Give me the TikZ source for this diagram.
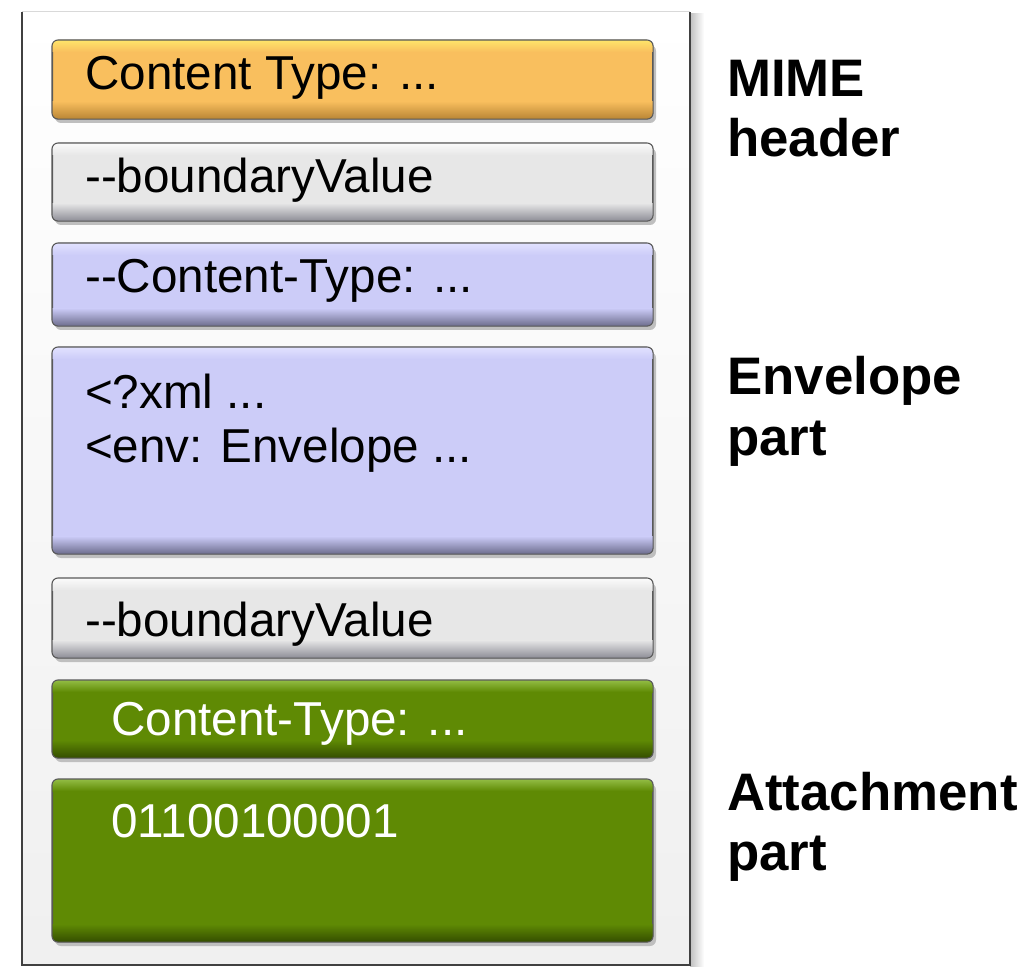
\documentclass[tikz,border=0pt]{standalone}
\usepackage{fontspec}
\setmainfont{Liberation Sans}
\usetikzlibrary{calc}

\definecolor{orangeL}{HTML}{FFE56A}
\definecolor{orangeB}{HTML}{F9BF5E}
\definecolor{orangeD}{HTML}{B98535}
\definecolor{greyL}{HTML}{FBFBFB}
\definecolor{greyB}{HTML}{E7E7E7}
\definecolor{greyD}{HTML}{8C8C96}
\definecolor{lavL}{HTML}{E2E2FF}
\definecolor{lavB}{HTML}{CCCCF8}
\definecolor{lavD}{HTML}{6C6C8C}
\definecolor{grnL}{HTML}{93BD45}
\definecolor{grnB}{HTML}{5F8A04}
\definecolor{grnD}{HTML}{344D00}

\tikzset{
  partbox/.style={draw=black!65, line width=1.1pt, rounded corners=6pt,
    inner sep=0pt, anchor=north west, minimum width=600pt},
  boxtext/.style={anchor=base west, inner sep=0pt,
    font=\fontsize{47.6}{54}\selectfont},
  sidelabel/.style={anchor=base west, inner sep=0pt,
    font=\fontsize{52.8}{60}\selectfont\bfseries},
}

% #1 name, #2 top, #3 height, #4 light, #5 base, #6 dark
\newcommand\partblock[6]{%
  \fill[black!25, rounded corners=6pt] (55,-#2-5) rectangle (656,-#2-#3-5);
  \node[partbox, fill=#5, minimum height=#3pt] (#1) at (52,-#2) {};
  \begin{scope}
    \clip[rounded corners=6pt] (#1.north west) rectangle (#1.south east);
    \shade[top color=#5, bottom color=#6] ($(#1.south west)+(0,18)$) rectangle (#1.south east);
    \shade[top color=#4, bottom color=#5] (#1.north west) rectangle ($(#1.north east)+(0,-12)$);
  \end{scope}
  \draw[black!65, line width=1.1pt, rounded corners=6pt] (#1.north west) rectangle (#1.south east);
}

\begin{document}
\begin{tikzpicture}[x=1pt, y=1pt]
\useasboundingbox (0,0) rectangle (1034,-968);
\fill[white] (0,0) rectangle (1034,-968);

% outer frame with soft shadow on its right side
\shade[left color=black!25, right color=white] (690,-14) rectangle (704,-966);
\node[draw=none, fill=none, inner sep=0pt] (frame) at (356,-488.5) {};
\shade[top color=white, bottom color=black!6] (22,-12) rectangle (690,-965);
\draw[black!15, line width=1pt] (22,-12) -- (690,-12);
\draw[black!75, line width=1.5pt] (22,-12) -- (22,-965) -- (690,-965) -- (690,-12);

% stacked message parts
\partblock{mime}{40}{78}{orangeL}{orangeB}{orangeD}
\partblock{bnd1}{143}{77}{greyL}{greyB}{greyD}
\partblock{envhdr}{243}{82}{lavL}{lavB}{lavD}
\partblock{envbody}{347}{206}{lavL}{lavB}{lavD}
\partblock{bnd2}{578}{79}{greyL}{greyB}{greyD}
\partblock{atthdr}{680}{77}{grnL}{grnB}{grnD}
\partblock{attbody}{779}{162}{grnL}{grnB}{grnD}

% texts inside the parts
\node[boxtext] (t1) at (85,-90) {Content Type: ...};
\node[boxtext] (t2) at (85,-193) {-{}-boundaryValue};
\node[boxtext] (t3) at (85,-293) {-{}-Content-Type: ...};
\node[boxtext] (t4a) at (85,-408) {<?xml ...};
\node[boxtext] (t4b) at (85,-462) {<env: Envelope ...};
\node[boxtext] (t5) at (85,-636) {-{}-boundaryValue};
\node[boxtext, text=white] (t6) at (111,-735) {Content-Type: ...};
\node[boxtext, text=white] (t7) at (111,-837) {01100100001};

% side labels
\node[sidelabel] (l1a) at (727,-97) {MIME};
\node[sidelabel] (l1b) at (727,-157) {header};
\node[sidelabel] (l2a) at (727,-395) {Envelope};
\node[sidelabel] (l2b) at (727,-455) {part};
\node[sidelabel] (l3a) at (727,-810) {Attachment};
\node[sidelabel] (l3b) at (727,-870) {part};
\end{tikzpicture}
\end{document}
